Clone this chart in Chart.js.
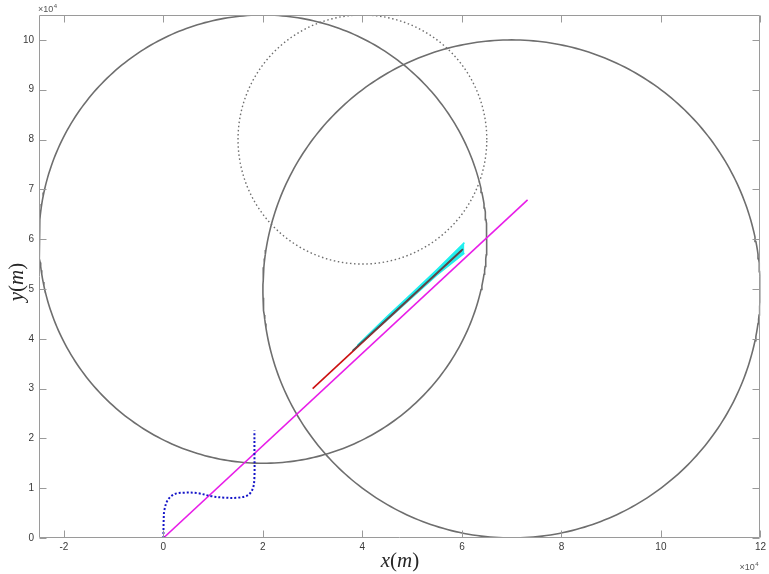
<!DOCTYPE html>
<html><head><meta charset="utf-8">
<script src="https://cdn.jsdelivr.net/npm/chart.js@4/dist/chart.umd.min.js"></script>
<style>html,body{margin:0;padding:0;background:#fff}canvas{display:block}</style>
</head><body>
<canvas id="c" width="769" height="574"></canvas>
<script>
// ---- data (metres) ----
const xTicks = [-20000, 0, 20000, 40000, 60000, 80000, 100000, 120000];
const xTickLabels = ['-2', '0', '2', '4', '6', '8', '10', '12'];
const yTicks = [0, 10000, 20000, 30000, 40000, 50000, 60000, 70000, 80000, 90000, 100000];
const yTickLabels = ['0', '1', '2', '3', '4', '5', '6', '7', '8', '9', '10'];

const circleCenterX = [20000, 70000, 40000];
const circleCenterY = [60000, 50000, 80000];
const circleRadius = [45000, 50000, 25000];

const trueLineX = [0, 73200];
const trueLineY = [0, 67900];

const blueX = [0, 60, 200, 870, 2200, 4200, 6900, 9600, 12300, 15000, 17000, 18000, 18300, 18300, 18300];
const blueY = [0, 3600, 5600, 7600, 8800, 9100, 9000, 8400, 8100, 8100, 8600, 10000, 12300, 17100, 21600];

const redX = [30000, 60000];
const redY = [30000, 57800];

const estX = [38000, 60200];
const estY = [37600, 58000];

const bandX = [39000, 45000, 50000, 55000, 60500];
const bandUpper = [38700, 44500, 49200, 53900, 59300];
const bandLower = [38500, 43800, 48300, 52800, 57200];

// ---- build ----
function pts(xs, ys) { return xs.map((x, i) => ({ x: x, y: ys[i] })); }
function circlePts(k) {
  const out = [];
  const n = 360;
  for (let i = 0; i <= n; i++) {
    const a = 2 * Math.PI * i / n;
    out.push({ x: circleCenterX[k] + circleRadius[k] * Math.cos(a), y: circleCenterY[k] + circleRadius[k] * Math.sin(a) });
  }
  return out;
}
const base = { showLine: true, pointRadius: 0, pointHoverRadius: 0, fill: false, tension: 0 };

const frame = {
  id: 'frame',
  afterDraw(chart) {
    const ctx = chart.ctx, a = chart.chartArea;
    const xs = chart.scales.x, ys = chart.scales.y;
    ctx.save();
    ctx.strokeStyle = '#9a9a9a';
    ctx.lineWidth = 1;
    const L = Math.round(a.left) + 0.5, R = Math.round(a.right) - 0.5, T = Math.round(a.top) + 0.5, B = Math.round(a.bottom) - 0.5;
    ctx.beginPath();
    ctx.moveTo(L, T); ctx.lineTo(R, T); ctx.lineTo(R, B); ctx.lineTo(L, B); ctx.closePath();
    ctx.stroke();
    const tl = 7;
    ctx.beginPath();
    xTicks.forEach(v => {
      const p = Math.round(xs.getPixelForValue(v)) + 0.5;
      ctx.moveTo(p, B); ctx.lineTo(p, B - tl);
      ctx.moveTo(p, T); ctx.lineTo(p, T + tl);
    });
    yTicks.forEach(v => {
      const p = Math.round(ys.getPixelForValue(v)) + 0.5;
      ctx.moveTo(L, p); ctx.lineTo(L + tl, p);
      ctx.moveTo(R, p); ctx.lineTo(R - tl, p);
    });
    ctx.stroke();
    // exponent labels
    ctx.fillStyle = '#555';
    ctx.textBaseline = 'alphabetic';
    ctx.textAlign = 'left';
    function expo(x, y) {
      ctx.font = '9px "Liberation Sans", Arial, sans-serif';
      ctx.fillText('\u00d710', x, y);
      const w = ctx.measureText('\u00d710').width;
      ctx.font = '6px "Liberation Sans", Arial, sans-serif';
      ctx.fillText('4', x + w + 0.5, y - 4);
    }
    expo(a.left - 1, a.top - 3);
    expo(a.right - 21, a.bottom + 32);
    // axis titles
    ctx.fillStyle = '#262626';
    function mathText(parts, cx, cy) {
      let w = 0;
      parts.forEach(p => { ctx.font = (p[1] ? 'italic ' : '') + '21px "Liberation Serif", "DejaVu Serif", serif'; w += ctx.measureText(p[0]).width; });
      let x = cx - w / 2;
      ctx.textBaseline = 'middle';
      parts.forEach(p => { ctx.font = (p[1] ? 'italic ' : '') + '21px "Liberation Serif", "DejaVu Serif", serif'; ctx.fillText(p[0], x, cy); x += ctx.measureText(p[0]).width; });
    }
    mathText([['x', true], ['(', false], ['m', true], [')', false]], 400, 561);
    ctx.save();
    ctx.translate(17, 282);
    ctx.rotate(-Math.PI / 2);
    mathText([['y', true], ['(', false], ['m', true], [')', false]], 0, 0);
    ctx.restore();
    ctx.restore();
  }
};

const chart = new Chart(document.getElementById('c'), {
  type: 'scatter',
  data: {
    datasets: [
      Object.assign({}, base, { order: 10, data: circlePts(0), borderColor: '#6e6e6e', borderWidth: 1.6 }),
      Object.assign({}, base, { order: 10, data: circlePts(1), borderColor: '#6e6e6e', borderWidth: 1.6 }),
      Object.assign({}, base, { order: 10, data: circlePts(2), borderColor: '#6e6e6e', borderWidth: 1.4, borderDash: [1.5, 2.6] }),
      Object.assign({}, base, { order: 7, data: pts(blueX, blueY), borderColor: '#1414c8', borderWidth: 2, borderDash: [2, 2], tension: 0.35 }),
      Object.assign({}, base, { order: 8, data: pts(trueLineX, trueLineY), borderColor: '#e81ee8', borderWidth: 1.6 }),
      Object.assign({}, base, { order: 6, data: pts(bandX, bandUpper), borderColor: '#1ff0f0', borderWidth: 1.5, backgroundColor: '#22eeee', fill: '+1' }),
      Object.assign({}, base, { order: 6, data: pts(bandX, bandLower), borderColor: '#1ff0f0', borderWidth: 1.5 }),
      Object.assign({}, base, { order: 5, data: pts(redX, redY), borderColor: '#cc1010', borderWidth: 1.6 }),
      Object.assign({}, base, { order: 4, data: pts(estX, estY), borderColor: '#505050', borderWidth: 1.6 })
    ]
  },
  options: {
    responsive: false,
    animation: false,
    devicePixelRatio: 1,
    layout: { padding: { left: 0, right: 7, top: 15, bottom: 0 } },
    plugins: { legend: { display: false }, tooltip: { enabled: false } },
    events: [],
    scales: {
      x: {
        type: 'linear', min: -25000, max: 120000,
        grid: { display: false, drawTicks: false },
        border: { display: false },
        afterBuildTicks: s => { s.ticks = xTicks.map(v => ({ value: v })); },
        afterFit: s => { s.height = 36; },
        ticks: { autoSkip: false, maxRotation: 0, padding: 3, color: '#3a3a3a', font: { family: '"Liberation Sans", Arial, sans-serif', size: 10 },
          callback: (v, i) => xTickLabels[i] }
      },
      y: {
        type: 'linear', min: 0, max: 105000,
        grid: { display: false, drawTicks: false },
        border: { display: false },
        afterBuildTicks: s => { s.ticks = yTicks.map(v => ({ value: v })); },
        afterFit: s => { s.width = 39; },
        ticks: { autoSkip: false, padding: 5, color: '#3a3a3a', font: { family: '"Liberation Sans", Arial, sans-serif', size: 10 },
          callback: (v, i) => yTickLabels[i] }
      }
    }
  },
  plugins: [frame]
});
</script>
</body></html>
